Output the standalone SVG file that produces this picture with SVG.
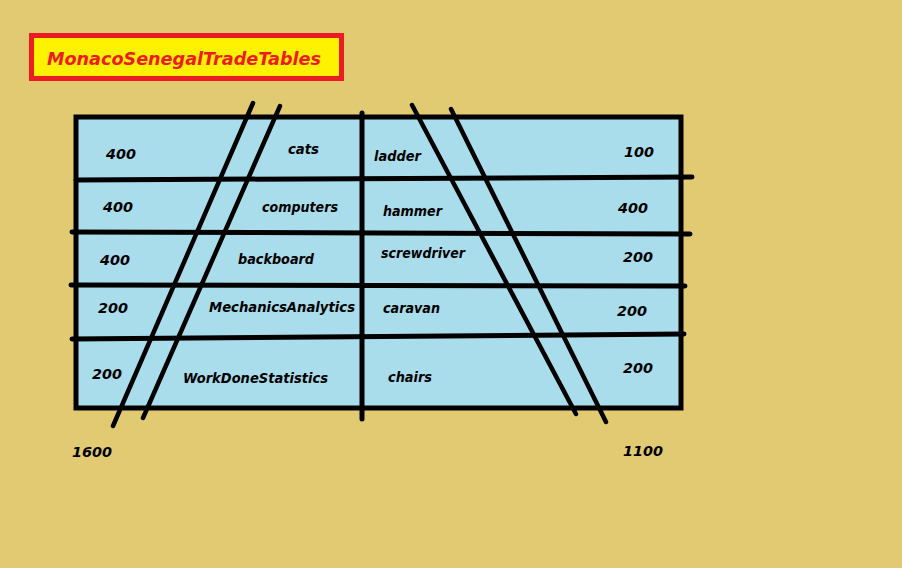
<svg xmlns="http://www.w3.org/2000/svg" width="902" height="568" viewBox="0 0 902 568">
<style>
.ln{stroke:#000;stroke-width:5;stroke-linecap:round;fill:none}
.dg{stroke:#000;stroke-width:4.5;stroke-linecap:round;fill:none}
.t{font-family:"DejaVu Sans","Verdana",sans-serif;font-weight:bold;font-style:italic;font-size:14px;fill:#000}
</style>
<rect x="0" y="0" width="902" height="568" fill="#E2CA72"/>
<g id="title">
<rect x="31.5" y="35.5" width="310" height="43" fill="#FFF200" stroke="#ED1C24" stroke-width="5"/>
<text x="47" y="65" font-family="DejaVu Sans,Verdana,sans-serif" font-weight="bold" font-style="italic" font-size="18" fill="#ED1C24" textLength="274" lengthAdjust="spacingAndGlyphs">MonacoSenegalTradeTables</text>
</g>
<g id="table">
<rect x="76" y="117" width="605" height="291" fill="#A9DDEB" stroke="#000" stroke-width="5"/>
</g>
<g id="connectors">
<line class="ln" x1="76" y1="180" x2="692" y2="177"/>
<line class="ln" x1="72" y1="232" x2="690" y2="234"/>
<line class="ln" x1="71" y1="285" x2="685" y2="286"/>
<line class="ln" x1="72" y1="339" x2="684" y2="334"/>
<line class="ln" x1="362" y1="113" x2="362" y2="419"/>
<line class="dg" x1="253" y1="103" x2="113" y2="426"/>
<line class="dg" x1="280" y1="106" x2="143" y2="418"/>
<line class="dg" x1="412" y1="105" x2="576" y2="414"/>
<line class="dg" x1="451" y1="109" x2="606" y2="422"/>
</g>
<g id="left-items">
<text class="t" x="106" y="159" textLength="30" lengthAdjust="spacingAndGlyphs">400</text>
<text class="t" x="288" y="154" textLength="31" lengthAdjust="spacingAndGlyphs">cats</text>
<text class="t" x="103" y="212" textLength="30" lengthAdjust="spacingAndGlyphs">400</text>
<text class="t" x="262" y="212" textLength="76" lengthAdjust="spacingAndGlyphs">computers</text>
<text class="t" x="100" y="265" textLength="30" lengthAdjust="spacingAndGlyphs">400</text>
<text class="t" x="238" y="264" textLength="76" lengthAdjust="spacingAndGlyphs">backboard</text>
<text class="t" x="98" y="313" textLength="30" lengthAdjust="spacingAndGlyphs">200</text>
<text class="t" x="209" y="312" textLength="146" lengthAdjust="spacingAndGlyphs">MechanicsAnalytics</text>
<text class="t" x="92" y="379" textLength="30" lengthAdjust="spacingAndGlyphs">200</text>
<text class="t" x="183" y="383" textLength="145" lengthAdjust="spacingAndGlyphs">WorkDoneStatistics</text>
<text class="t" x="72" y="457" textLength="40" lengthAdjust="spacingAndGlyphs">1600</text>
</g>
<g id="right-items">
<text class="t" x="374" y="161" textLength="47" lengthAdjust="spacingAndGlyphs">ladder</text>
<text class="t" x="624" y="157" textLength="30" lengthAdjust="spacingAndGlyphs">100</text>
<text class="t" x="383" y="216" textLength="59" lengthAdjust="spacingAndGlyphs">hammer</text>
<text class="t" x="618" y="213" textLength="30" lengthAdjust="spacingAndGlyphs">400</text>
<text class="t" x="381" y="258" textLength="84" lengthAdjust="spacingAndGlyphs">screwdriver</text>
<text class="t" x="623" y="262" textLength="30" lengthAdjust="spacingAndGlyphs">200</text>
<text class="t" x="383" y="313" textLength="57" lengthAdjust="spacingAndGlyphs">caravan</text>
<text class="t" x="617" y="316" textLength="30" lengthAdjust="spacingAndGlyphs">200</text>
<text class="t" x="388" y="382" textLength="44" lengthAdjust="spacingAndGlyphs">chairs</text>
<text class="t" x="623" y="373" textLength="30" lengthAdjust="spacingAndGlyphs">200</text>
<text class="t" x="623" y="456" textLength="40" lengthAdjust="spacingAndGlyphs">1100</text>
</g>
</svg>
